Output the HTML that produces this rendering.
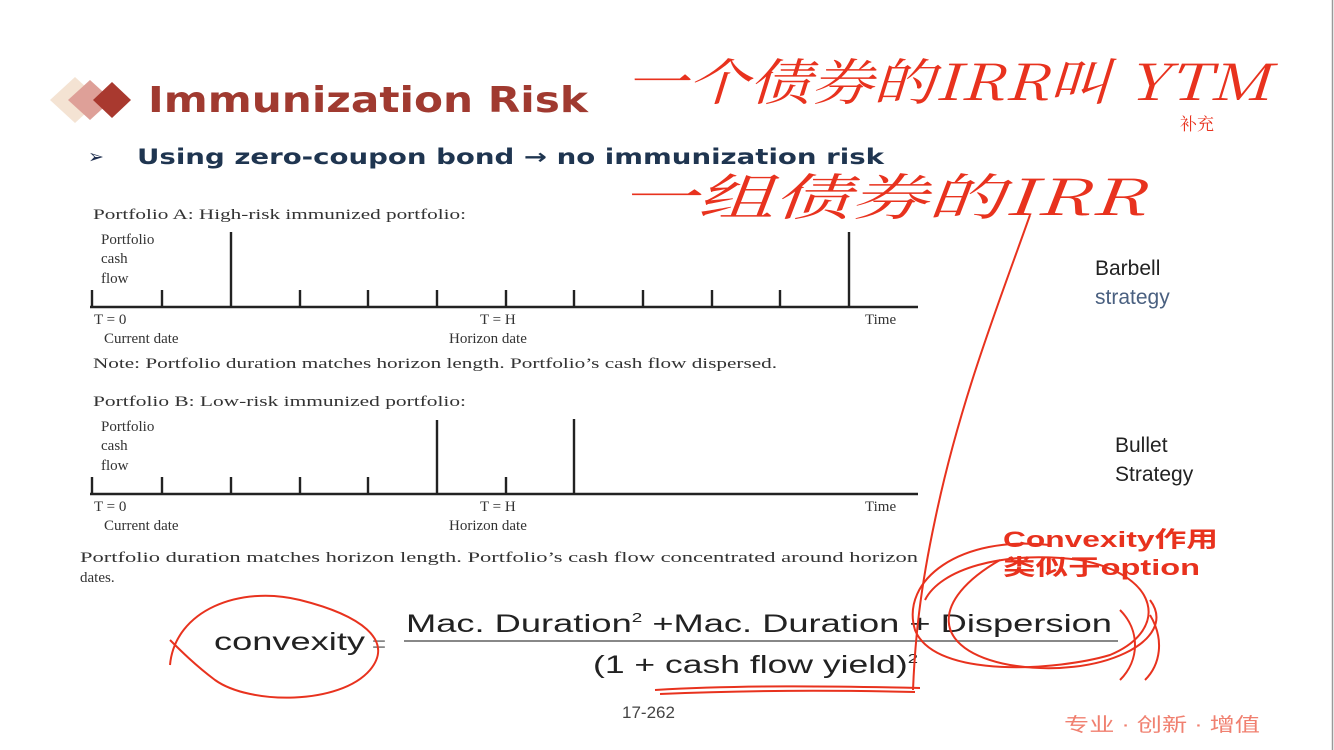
<!DOCTYPE html>
<html><head><meta charset="utf-8"><style>
html,body{margin:0;padding:0;background:#fff;}
svg{display:block}
.s{font-family:"Liberation Serif","Noto Serif CJK SC",serif;fill:#333;}
.b{font-family:"DejaVu Sans","Liberation Sans",sans-serif;}
.c{font-family:"Liberation Sans","Noto Sans CJK SC",sans-serif;}
</style></head><body>
<svg width="1334" height="750" viewBox="0 0 1334 750" xmlns="http://www.w3.org/2000/svg">
<rect width="1334" height="750" fill="#fff"/>
<line x1="1332.5" y1="0" x2="1332.5" y2="750" stroke="#999" stroke-width="1.5"/>
<polygon points="75,77 100,100 75,123 50,100" fill="#f4e3d3"/>
<polygon points="90,80 112,100 90,120 68,100" fill="#dea098"/>
<polygon points="112,82 131,100 112,118 93,100" fill="#a9392f"/>
<text x="148" y="112" class="b" font-size="36" font-weight="bold" fill="#a03a30" textLength="440" lengthAdjust="spacingAndGlyphs">Immunization Risk</text>
<text x="88" y="163" class="b" font-size="19" fill="#1f2f4f">➢</text>
<text x="137" y="164" class="b" font-size="21" font-weight="bold" fill="#1f3550" textLength="747" lengthAdjust="spacingAndGlyphs">Using zero-coupon bond → no immunization risk</text>

<text x="93" y="219" class="s" font-size="15" textLength="373" lengthAdjust="spacingAndGlyphs">Portfolio A: High-risk immunized portfolio:</text>
<text x="101" y="244" class="s" font-size="15">Portfolio</text>
<text x="101" y="263" class="s" font-size="15">cash</text>
<text x="101" y="283" class="s" font-size="15">flow</text>
<g stroke="#222" stroke-width="2.4">
<line x1="90" y1="307" x2="918" y2="307"/>
<line x1="92" y1="290" x2="92" y2="307"/>
<line x1="162" y1="290" x2="162" y2="307"/>
<line x1="231" y1="232" x2="231" y2="307"/>
<line x1="300" y1="290" x2="300" y2="307"/>
<line x1="368" y1="290" x2="368" y2="307"/>
<line x1="437" y1="290" x2="437" y2="307"/>
<line x1="506" y1="290" x2="506" y2="307"/>
<line x1="574" y1="290" x2="574" y2="307"/>
<line x1="643" y1="290" x2="643" y2="307"/>
<line x1="712" y1="290" x2="712" y2="307"/>
<line x1="780" y1="290" x2="780" y2="307"/>
<line x1="849" y1="232" x2="849" y2="307"/>
</g>
<text x="94" y="324" class="s" font-size="15">T = 0</text>
<text x="480" y="324" class="s" font-size="15">T = H</text>
<text x="865" y="324" class="s" font-size="15">Time</text>
<text x="104" y="343" class="s" font-size="15">Current date</text>
<text x="449" y="343" class="s" font-size="15">Horizon date</text>
<text x="93" y="368" class="s" font-size="15" textLength="684" lengthAdjust="spacingAndGlyphs">Note: Portfolio duration matches horizon length. Portfolio’s cash flow dispersed.</text>

<text x="93" y="406" class="s" font-size="15" textLength="373" lengthAdjust="spacingAndGlyphs">Portfolio B: Low-risk immunized portfolio:</text>
<text x="101" y="431" class="s" font-size="15">Portfolio</text>
<text x="101" y="450" class="s" font-size="15">cash</text>
<text x="101" y="470" class="s" font-size="15">flow</text>
<g stroke="#222" stroke-width="2.4">
<line x1="90" y1="494" x2="918" y2="494"/>
<line x1="92" y1="477" x2="92" y2="494"/>
<line x1="162" y1="477" x2="162" y2="494"/>
<line x1="231" y1="477" x2="231" y2="494"/>
<line x1="300" y1="477" x2="300" y2="494"/>
<line x1="368" y1="477" x2="368" y2="494"/>
<line x1="437" y1="420" x2="437" y2="494"/>
<line x1="506" y1="477" x2="506" y2="494"/>
<line x1="574" y1="419" x2="574" y2="494"/>
</g>
<text x="94" y="511" class="s" font-size="15">T = 0</text>
<text x="480" y="511" class="s" font-size="15">T = H</text>
<text x="865" y="511" class="s" font-size="15">Time</text>
<text x="104" y="530" class="s" font-size="15">Current date</text>
<text x="449" y="530" class="s" font-size="15">Horizon date</text>
<text x="80" y="562" class="s" font-size="15" textLength="838" lengthAdjust="spacingAndGlyphs">Portfolio duration matches horizon length. Portfolio’s cash flow concentrated around horizon</text>
<text x="80" y="582" class="s" font-size="15">dates.</text>

<text x="1095" y="275" class="c" font-size="21" fill="#222">Barbell</text>
<text x="1095" y="304" class="c" font-size="21" fill="#4a6080">strategy</text>
<text x="1115" y="452" class="c" font-size="21" fill="#222">Bullet</text>
<text x="1115" y="481" class="c" font-size="21" fill="#222">Strategy</text>

<text x="214" y="650" class="c" font-size="25" fill="#222" textLength="151" lengthAdjust="spacingAndGlyphs">convexity</text>
<text x="372" y="652" class="c" font-size="24" fill="#888">=</text>
<line x1="404" y1="641" x2="1118" y2="641" stroke="#888" stroke-width="2"/>
<text x="406" y="632" class="c" font-size="25" fill="#222" textLength="706" lengthAdjust="spacingAndGlyphs">Mac. Duration<tspan font-size="13" dy="-10">2</tspan><tspan dy="10"> +Mac. Duration + Dispersion</tspan></text>
<text x="593" y="673" class="c" font-size="25" fill="#222" textLength="325" lengthAdjust="spacingAndGlyphs">(1 + cash flow yield)<tspan font-size="13" dy="-10">2</tspan></text>
<text x="622" y="718" class="c" font-size="17" fill="#444">17-262</text>
<text x="1064" y="731" class="c" font-size="19" fill="#f08070" textLength="196" lengthAdjust="spacingAndGlyphs">专业 · 创新 · 增值</text>

<text x="625" y="100" font-family="'Noto Serif CJK SC',serif" font-size="50" fill="#e8321e" font-style="italic" textLength="645" lengthAdjust="spacingAndGlyphs">一个债券的IRR叫 YTM</text>
<text x="1180" y="130" font-family="'Noto Serif CJK SC',serif" font-size="17" fill="#e8321e">补充</text>
<text x="620" y="215" font-family="'Noto Serif CJK SC',serif" font-size="50" fill="#e8321e" font-style="italic" textLength="525" lengthAdjust="spacingAndGlyphs">一组债券的IRR</text>
<text x="1003" y="547" class="c" font-size="22" font-weight="bold" fill="#e8321e" textLength="215" lengthAdjust="spacingAndGlyphs">Convexity作用</text>
<text x="1003" y="575" class="c" font-size="22" font-weight="bold" fill="#e8321e" textLength="197" lengthAdjust="spacingAndGlyphs">类似于option</text>
<g fill="none" stroke="#e8321e" stroke-width="2">
<path d="M1030,215 C1000,300 960,400 935,520 C920,590 915,640 913,690"/>
<path d="M1050,545 C960,535 900,580 915,630 C935,680 1060,670 1110,655 C1170,630 1160,575 1080,560 C1000,550 940,570 925,600"/>
<path d="M1000,560 C930,600 930,650 1010,665 C1100,680 1180,640 1150,600"/>
<path d="M1120,610 C1140,630 1140,660 1120,680"/>
<path d="M1150,615 C1165,640 1160,665 1145,680"/>
<path d="M170,665 C175,610 240,585 300,600 C360,615 395,640 370,670 C340,705 250,705 215,680 C195,665 180,650 170,640"/>
<path d="M655,690 C740,685 830,686 920,688"/>
<path d="M660,694 C750,690 830,690 915,692"/>
</g>
</svg>
</body></html>
